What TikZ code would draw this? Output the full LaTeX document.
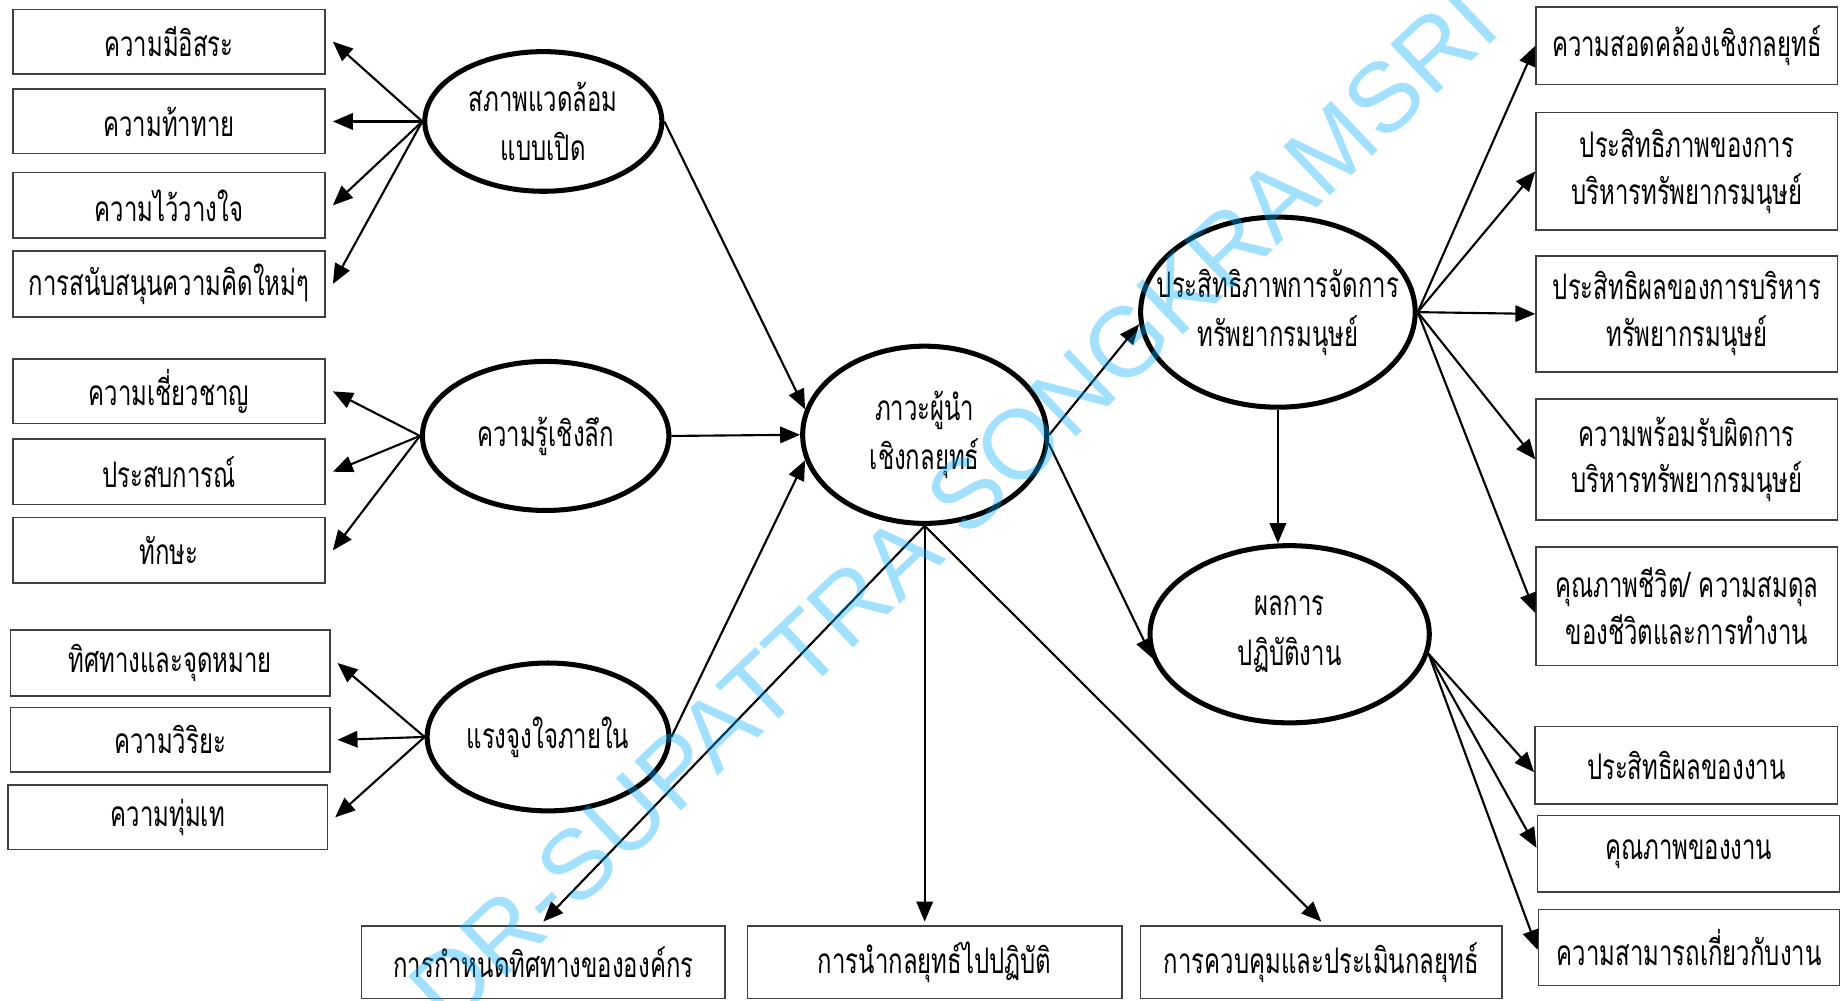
\documentclass[tikz,border=0pt]{standalone}
\usepackage{fontspec}
\usetikzlibrary{arrows.meta,shapes.geometric}
\newfontfamily\thaifont[Script=Thai,FakeStretch=0.68]{Loma}
\newfontfamily\wmfont{Liberation Sans}
\definecolor{wmblue}{RGB}{0,172,255}
\begin{document}
\begin{tikzpicture}[x=1pt,y=-1pt,
  box/.style={draw=black!75, line width=1.3pt, rectangle, inner sep=0pt,
    align=center, font=\thaifont\fontsize{30}{40}\selectfont},
  oval/.style={draw, line width=4.3pt, ellipse, inner sep=0pt},
  lbl/.style={align=center, inner sep=0pt, font=\thaifont\fontsize{30}{42}\selectfont},
  arr/.style={line width=1.8pt, -{Triangle[length=17pt,width=14pt]}},
  wm/.style={text=wmblue, opacity=0.37, font=\wmfont\fontsize{84}{84}\selectfont, inner sep=0pt}]
\fill[white] (0,0) rectangle (1568,853);
\useasboundingbox (0,0) rectangle (1568,853);

% left-hand indicator boxes
\node[box, minimum width=266pt, minimum height=55pt] (b1) at (144,35.5) {ความมีอิสระ};
\node[box, minimum width=266pt, minimum height=55pt] (b2) at (144,103.5) {ความท้าทาย};
\node[box, minimum width=266pt, minimum height=56pt] (b3) at (144,175) {ความไว้วางใจ};
\node[box, minimum width=266pt, minimum height=56pt] (b4) at (144,242) {การสนับสนุนความคิดใหม่ๆ};
\node[box, minimum width=266pt, minimum height=55pt] (b5) at (144,333.5) {ความเชี่ยวชาญ};
\node[box, minimum width=266pt, minimum height=56pt] (b6) at (144,402) {ประสบการณ์};
\node[box, minimum width=266pt, minimum height=56pt] (b7) at (144,469) {ทักษะ};
\node[box, minimum width=272pt, minimum height=56pt] (b8) at (145,565) {ทิศทางและจุดหมาย};
\node[box, minimum width=272pt, minimum height=55pt] (b9) at (145,630.5) {ความวิริยะ};
\node[box, minimum width=272pt, minimum height=55pt] (b10) at (143,696.5) {ความทุ่มเท};

% latent variables
\node[oval, minimum width=202pt, minimum height=119pt] (e1) at (463,103.5) {};
\node[lbl] (e1t) at (e1) {สภาพแวดล้อม\\แบบเปิด};
\node[oval, minimum width=210pt, minimum height=127pt] (e2) at (465,371.5) {};
\node[lbl] (e2t) at (e2) {ความรู้เชิงลึก};
\node[oval, minimum width=206pt, minimum height=126pt] (e3) at (467,628) {};
\node[lbl] (e3t) at (e3) {แรงจูงใจภายใน};
\node[oval, minimum width=208pt, minimum height=151pt] (e4) at (788,370.5) {};
\node[lbl] (e4t) at (e4) {ภาวะผู้นำ\\เชิงกลยุทธ์};
\node[oval, minimum width=234pt, minimum height=162pt] (e5) at (1089,266) {};
\node[lbl] (e5t) at (e5) {ประสิทธิภาพการจัดการ\\ทรัพยากรมนุษย์};
\node[oval, minimum width=238pt, minimum height=151pt] (e6) at (1099,540.5) {};
\node[lbl] (e6t) at (e6) {ผลการ\\ปฏิบัติงาน};

% bottom boxes
\node[box, minimum width=310pt, minimum height=62pt] (c1) at (463,820) {การกำหนดทิศทางขององค์กร};
\node[box, minimum width=319pt, minimum height=62pt] (c2) at (796.5,820) {การนำกลยุทธ์ไปปฏิบัติ};
\node[box, minimum width=308pt, minimum height=62pt] (c3) at (1126,820) {การควบคุมและประเมินกลยุทธ์};

% right-hand indicator boxes
\node[box, minimum width=257pt, minimum height=66pt] (r1) at (1437.5,39) {ความสอดคล้องเชิงกลยุทธ์};
\node[box, minimum width=257pt, minimum height=100pt] (r2) at (1437.5,146) {ประสิทธิภาพของการ\\บริหารทรัพยากรมนุษย์};
\node[box, minimum width=257pt, minimum height=99pt] (r3) at (1437.5,267.5) {ประสิทธิผลของการบริหาร\\ทรัพยากรมนุษย์};
\node[box, minimum width=257pt, minimum height=103pt] (r4) at (1437.5,391.5) {ความพร้อมรับผิดการ\\บริหารทรัพยากรมนุษย์};
\node[box, minimum width=257pt, minimum height=101pt] (r5) at (1437.5,516.5) {คุณภาพชีวิต/ ความสมดุล\\ของชีวิตและการทำงาน};
\node[box, minimum width=258pt, minimum height=66pt] (r6) at (1437,652) {ประสิทธิผลของงาน};
\node[box, minimum width=258pt, minimum height=65pt] (r7) at (1439,727.5) {คุณภาพของงาน};
\node[box, minimum width=257pt, minimum height=65pt] (r8) at (1439.5,807.5) {ความสามารถเกี่ยวกับงาน};

% indicators of the three antecedents
\foreach \b in {b1,b2,b3,b4} \draw[arr] (e1.west) -- ([xshift=6pt]\b.east);
\foreach \b in {b5,b6,b7} \draw[arr] (e2.west) -- ([xshift=6pt]\b.east);
\foreach \b in {b8,b9,b10} \draw[arr] (e3.west) -- ([xshift=6pt]\b.east);

% paths into and out of strategic leadership
\draw[arr] (e1.east) -- (e4.168);
\draw[arr] (e2.east) -- (e4.west);
\draw[arr] (e3.east) -- (e4.192);
\draw[arr] (e4.east) -- (e5.185);
\draw[arr] (e4.-4) -- (e6.190);
\draw[arr] (e5.south) -- (e5.south |- e6.north);
\draw[arr] (e4.south) -- ([yshift=3pt]c1.north);
\draw[arr] (e4.south) -- ([yshift=3pt]e4.south |- c2.north);
\draw[arr] (e4.south) -- ([yshift=3pt]c3.north);

% indicators of the two outcomes
\draw[arr] (e5.east) -- (r1.west);
\draw[arr] (e5.east) -- (r2.west);
\draw[arr] (e5.east) -- (r3.west);
\draw[arr] (e5.east) -- (r4.west);
\draw[arr] (e5.east) -- ([yshift=-6pt]r5.west);
\draw[arr] (e6.-8) -- ([yshift=-6pt]r6.west);
\draw[arr] (e6.-8) -- ([yshift=5pt]r7.west);
\draw[arr] (e6.-8) -- ([yshift=-2pt]r8.west);

% author mark across the figure
\node[wm, rotate=43.5] (mark) at (812,432) {DR-SUPATTRA SONGKRAMSRI};
\end{tikzpicture}
\end{document}
